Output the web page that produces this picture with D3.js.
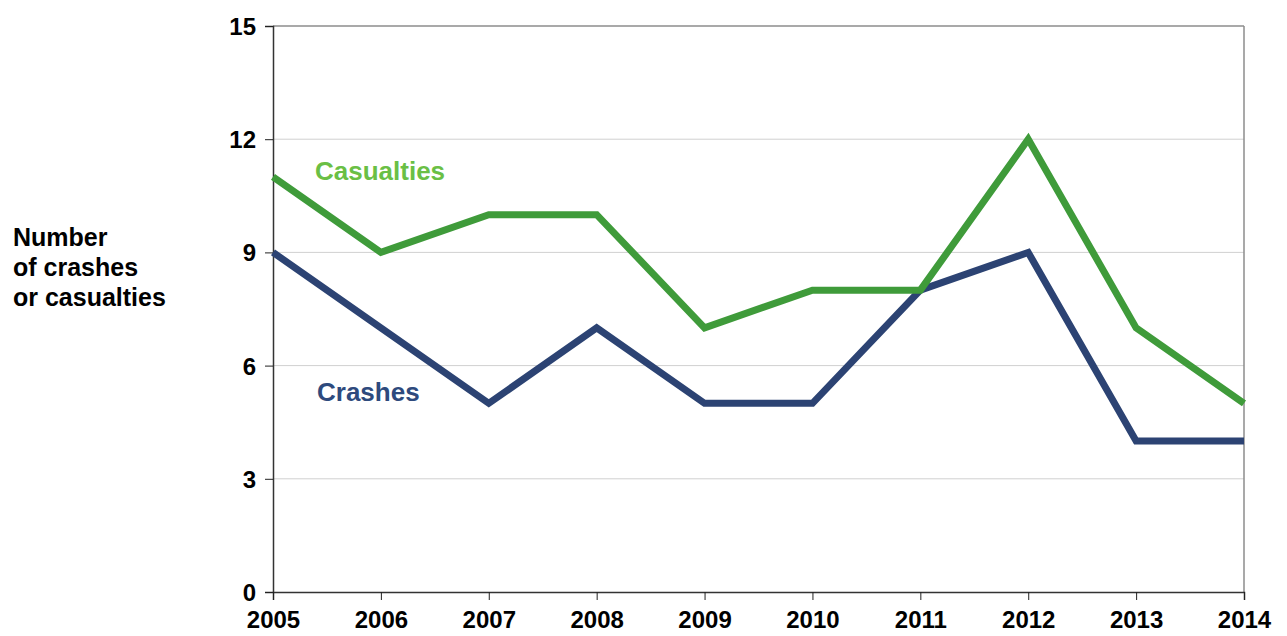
<!DOCTYPE html>
<html><head><meta charset="utf-8">
<script src="https://cdn.jsdelivr.net/npm/d3@7"></script>
<style>body{margin:0;background:#fff}svg{display:block}text{font-family:"Liberation Sans",Arial,sans-serif;font-weight:bold}</style>
</head><body><svg id="c" width="1287" height="636"></svg>
<script>
const years = [2005,2006,2007,2008,2009,2010,2011,2012,2013,2014];
const casualties = [11,9,10,10,7,8,8,12,7,5];
const crashes = [9,7,5,7,5,5,8,9,4,4];
const yTicks = [0,3,6,9,12,15];

const svg = d3.select("#c");
const L=273,R=1244,T=26,B=592;
const x = d3.scaleLinear().domain([2005,2014]).range([L,R]);
const y = d3.scaleLinear().domain([0,15]).range([B,T]);

svg.append("g").selectAll("line").data(yTicks.filter(d=>d>0&&d<15)).join("line")
  .attr("x1",L).attr("x2",R).attr("y1",d=>y(d)).attr("y2",d=>y(d))
  .attr("stroke","#d0d0d0").attr("stroke-width",1);
svg.append("line").attr("x1",L).attr("x2",R).attr("y1",T).attr("y2",T).attr("stroke","#8c8c8c").attr("stroke-width",1.5);
svg.append("line").attr("x1",R).attr("x2",R).attr("y1",T).attr("y2",B).attr("stroke","#8c8c8c").attr("stroke-width",1.5);

const yAxis = svg.append("g").attr("transform",`translate(${L},0)`)
  .call(d3.axisLeft(y).tickValues(yTicks).tickSize(8).tickPadding(9));
const xAxis = svg.append("g").attr("transform",`translate(0,${B})`)
  .call(d3.axisBottom(x).tickValues(years).tickFormat(d3.format("d")).tickSize(8).tickPadding(8));
[yAxis,xAxis].forEach(a=>{
  a.attr("font-size",null).attr("font-family",null);
  a.selectAll(".domain").attr("stroke","#333").attr("stroke-width",1.5);
  a.selectAll(".tick line").attr("stroke","#222");
  a.selectAll("text").style("font-size","24px").attr("fill","#000");
});
xAxis.selectAll(".tick text").attr("dy","0.85em");
yAxis.selectAll(".tick text").attr("dy","0.35em");

const line = d3.line().x((d,i)=>x(years[i])).y(d=>y(d));
svg.append("path").datum(crashes).attr("d",line).attr("fill","none")
  .attr("stroke","#2c4373").attr("stroke-width",7).attr("stroke-linejoin","miter");
svg.append("path").datum(casualties).attr("d",line).attr("fill","none")
  .attr("stroke","#3f9b3a").attr("stroke-width",7).attr("stroke-linejoin","miter");

svg.append("text").attr("x",315).attr("y",180).style("font-size","26px").attr("fill","#6abf45").text("Casualties");
svg.append("text").attr("x",317).attr("y",401).style("font-size","26px").attr("fill","#2e4a7d").text("Crashes");

const yl = svg.append("text").attr("x",13).attr("y",246).style("font-size","25px").attr("fill","#000");
["Number","of crashes","or casualties"].forEach((t,i)=>yl.append("tspan").attr("x",13).attr("dy",i?30:0).text(t));
</script></body></html>
